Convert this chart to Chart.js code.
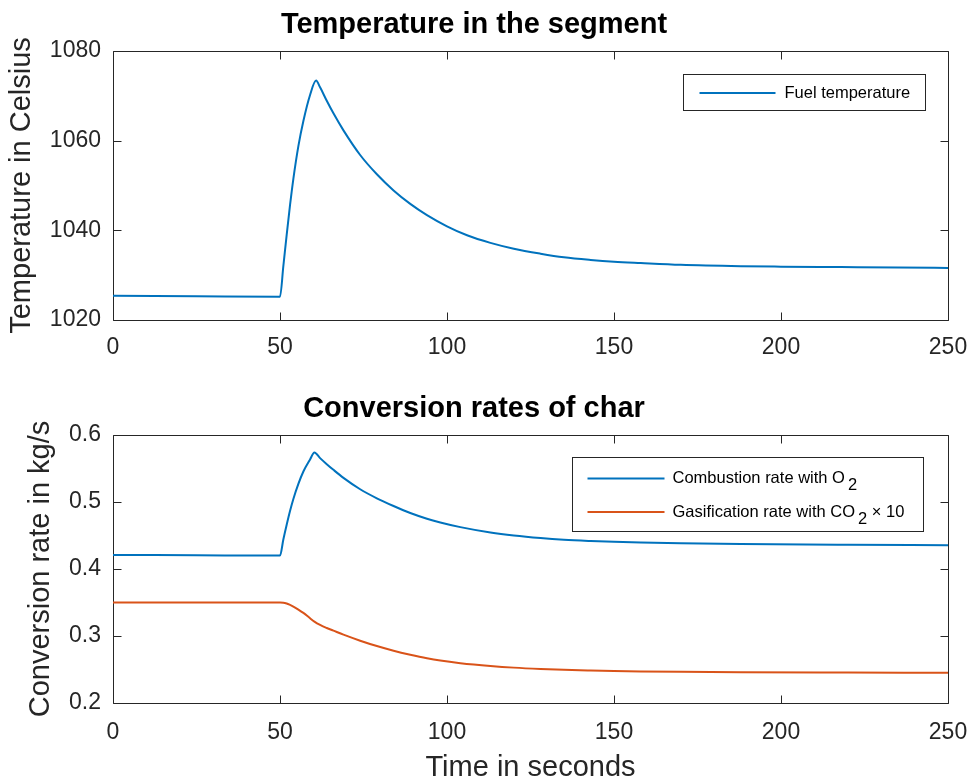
<!DOCTYPE html>
<html lang="en">
<head>
<meta charset="UTF-8">
<title>Temperature and conversion rates of char</title>
<script src="https://cdn.jsdelivr.net/npm/chart.js"></script>
<style>
  html, body { margin: 0; padding: 0; background: #fff; overflow: hidden; }
  .wrap { position: relative; width: 972px; height: 780px; }
  canvas { position: absolute; left: 0; }
  #tempChart { top: 0; }
  #rateChart { top: 384px; }
</style>
</head>
<body>
<div class="wrap">
  <canvas id="tempChart" width="972" height="384"></canvas>
  <canvas id="rateChart" width="972" height="396"></canvas>
</div>
<script>
// values
const tempTime = [0, 25, 50, 51, 52, 53, 54, 55.5, 57, 59, 60.8, 62, 64, 66, 69, 74, 79, 84, 89, 94, 100, 106, 113, 120, 128, 135, 143, 150, 158, 170, 188, 200, 218, 235, 250];
const fuelTemp = [1025.4, 1025.3, 1025.2, 1032.0, 1039.0, 1045.6, 1051.5, 1058.8, 1064.4, 1070.2, 1073.4, 1071.9, 1068.9, 1066.1, 1062.3, 1056.8, 1052.5, 1048.9, 1045.9, 1043.4, 1040.9, 1038.9, 1037.2, 1035.9, 1034.8, 1034.0, 1033.4, 1033.0, 1032.7, 1032.3, 1032.0, 1031.9, 1031.8, 1031.7, 1031.6];

const rateTime = [0, 25, 50, 51, 52, 53, 54, 55.5, 57, 59, 60.3, 62, 64, 66, 69, 74, 79, 84, 89, 94, 98, 104, 113, 120, 128, 135, 143, 150, 158, 170, 188, 220, 250];
const combustionRate = [0.421, 0.4205, 0.420, 0.444, 0.466, 0.4865, 0.5045, 0.527, 0.5455, 0.5635, 0.574, 0.5655, 0.5565, 0.548, 0.536, 0.519, 0.5055, 0.494, 0.4835, 0.475, 0.4695, 0.4625, 0.4545, 0.450, 0.4462, 0.4437, 0.4418, 0.4405, 0.4395, 0.4384, 0.4373, 0.4362, 0.4355];
const gasificationRate = [0.350, 0.350, 0.350, 0.3498, 0.3485, 0.3464, 0.3440, 0.3395, 0.3345, 0.3265, 0.3215, 0.3165, 0.312, 0.308, 0.302, 0.293, 0.285, 0.278, 0.272, 0.2667, 0.2633, 0.2595, 0.2553, 0.2528, 0.2508, 0.2495, 0.2485, 0.2478, 0.2472, 0.2466, 0.2460, 0.2455, 0.2451];

const timeTicks = [0, 50, 100, 150, 200, 250];
const tempTicks = [1020, 1040, 1060, 1080];
const rateTicks = [0.2, 0.3, 0.4, 0.5, 0.6];

const FAMILY = '"Liberation Sans", Arial, Helvetica, sans-serif';
const AXIS = '#262626';
const BLUE = '#0072BD';
const ORANGE = '#D95319';

Chart.defaults.font.family = FAMILY;
Chart.defaults.color = AXIS;

function pairs(xs, ys) {
  return xs.map((x, i) => ({ x: x, y: ys[i] }));
}

// matlab style box with inward ticks on all four sides
const axesBox = {
  id: 'axesBox',
  beforeDatasetsDraw(chart) {
    const { ctx, chartArea: a, scales } = chart;
    const len = 8;
    ctx.save();
    ctx.strokeStyle = AXIS;
    ctx.lineWidth = 1;
    ctx.beginPath();
    const L = Math.round(a.left) + 0.5, R = Math.round(a.right) + 0.5;
    const T = Math.round(a.top) + 0.5, B = Math.round(a.bottom) + 0.5;
    ctx.rect(L, T, R - L, B - T);
    scales.x.ticks.forEach(t => {
      const px = Math.round(scales.x.getPixelForValue(t.value)) + 0.5;
      ctx.moveTo(px, B); ctx.lineTo(px, B - len);
      ctx.moveTo(px, T); ctx.lineTo(px, T + len);
    });
    scales.y.ticks.forEach(t => {
      const py = Math.round(scales.y.getPixelForValue(t.value)) + 0.5;
      ctx.moveTo(L, py); ctx.lineTo(L + len, py);
      ctx.moveTo(R, py); ctx.lineTo(R - len, py);
    });
    ctx.stroke();
    ctx.restore();
  }
};

// text with "₂" drawn as a lowered 2
function drawRich(ctx, text, x, y, size) {
  ctx.font = size + 'px ' + FAMILY;
  text.split(/(₂)/).forEach(part => {
    if (!part) return;
    if (part === '₂') {
      x += 3;
      ctx.fillText('2', x, y + 7);
      x += ctx.measureText('2').width;
    } else {
      ctx.fillText(part, x, y);
      x += ctx.measureText(part).width;
    }
  });
}

const boxLegend = {
  id: 'boxLegend',
  afterDraw(chart, args, opts) {
    const { ctx, chartArea: a } = chart;
    const left = Math.round(a.right - opts.right) + 0.5;
    const top = Math.round(a.top + opts.top) + 0.5;
    ctx.save();
    ctx.fillStyle = '#fff';
    ctx.strokeStyle = AXIS;
    ctx.lineWidth = 1;
    ctx.fillRect(left, top, opts.width, opts.height);
    ctx.strokeRect(left, top, opts.width, opts.height);
    chart.data.datasets.forEach((ds, i) => {
      const y = top + opts.rows[i];
      ctx.strokeStyle = ds.borderColor;
      ctx.lineWidth = 2;
      ctx.beginPath();
      ctx.moveTo(left + opts.lineStart, y);
      ctx.lineTo(left + opts.lineEnd, y);
      ctx.stroke();
      ctx.fillStyle = '#000';
      ctx.textBaseline = 'middle';
      drawRich(ctx, ds.label, left + opts.textStart, y, 16.5);
    });
    ctx.restore();
  }
};

function fixedTicks(list) {
  return scale => { scale.ticks = list.map(v => ({ value: v })); };
}

function makeChart(id, cfg) {
  return new Chart(document.getElementById(id), {
    type: 'line',
    data: { datasets: cfg.datasets },
    options: {
      responsive: false,
      animation: false,
      devicePixelRatio: 1,
      layout: { padding: { left: 0, right: 24, top: 0, bottom: 0 } },
      elements: { point: { radius: 0 }, line: { borderWidth: 2, cubicInterpolationMode: 'monotone' } },
      plugins: {
        legend: { display: false },
        tooltip: { enabled: false },
        title: {
          display: true,
          text: cfg.title,
          color: '#000',
          font: { size: 29, weight: 'bold', lineHeight: 1.2 },
          padding: { top: 8, bottom: 8.2 }
        },
        boxLegend: cfg.legend
      },
      scales: {
        x: {
          type: 'linear',
          min: 0, max: 250,
          afterBuildTicks: fixedTicks(timeTicks),
          afterFit: s => { s.height = cfg.xHeight; s.paddingLeft = 0; s.paddingRight = 0; },
          grid: { display: false, drawTicks: false },
          border: { display: false },
          ticks: { padding: cfg.xTickPad, font: { size: 23 }, color: AXIS, maxRotation: 0 },
          title: cfg.xTitle
        },
        y: {
          type: 'linear',
          min: cfg.yMin, max: cfg.yMax,
          afterBuildTicks: fixedTicks(cfg.yTicks),
          afterFit: s => { s.width = 113; s.paddingTop = 0; s.paddingBottom = 0; },
          grid: { display: false, drawTicks: false },
          border: { display: false },
          ticks: { padding: 12, font: { size: 23 }, color: AXIS, callback: cfg.yFormat },
          title: {
            display: true,
            text: cfg.yTitle,
            color: AXIS,
            font: { size: 29, lineHeight: 1.2 },
            padding: { top: cfg.yTitlePad, bottom: 0 }
          }
        }
      }
    },
    plugins: [axesBox, boxLegend]
  });
}

makeChart('tempChart', {
  title: 'Temperature in the segment',
  datasets: [{
    label: 'Fuel temperature',
    data: pairs(tempTime, fuelTemp),
    borderColor: BLUE,
    backgroundColor: BLUE
  }],
  legend: { right: 265, top: 23, width: 242, height: 36, rows: [18.5], lineStart: 16, lineEnd: 92, textStart: 101 },
  xHeight: 64,
  xTickPad: 14,
  xTitle: { display: false },
  yMin: 1020, yMax: 1080,
  yTicks: tempTicks,
  yFormat: v => String(v),
  yTitle: 'Temperature in Celsius',
  yTitlePad: 5
});

makeChart('rateChart', {
  title: 'Conversion rates of char',
  datasets: [{
    label: 'Combustion rate with O₂',
    data: pairs(rateTime, combustionRate),
    borderColor: BLUE,
    backgroundColor: BLUE
  }, {
    label: 'Gasification rate with CO₂ × 10',
    data: pairs(rateTime, gasificationRate),
    borderColor: ORANGE,
    backgroundColor: ORANGE
  }],
  legend: { right: 376, top: 22, width: 351, height: 74, rows: [21, 54.5], lineStart: 15, lineEnd: 92, textStart: 100 },
  xHeight: 77,
  xTickPad: 16,
  xTitle: {
    display: true,
    text: 'Time in seconds',
    color: AXIS,
    font: { size: 29, lineHeight: 0.86 },
    padding: { top: 0, bottom: 0 }
  },
  yMin: 0.2, yMax: 0.6,
  yTicks: rateTicks,
  yFormat: v => v.toFixed(1),
  yTitle: 'Conversion rate in kg/s',
  yTitlePad: 24
});
</script>
</body>
</html>
